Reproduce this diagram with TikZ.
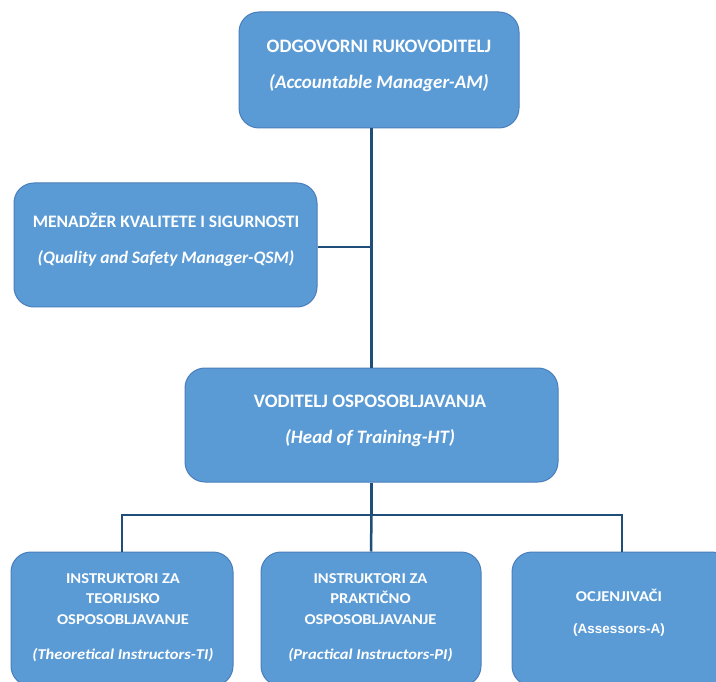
\documentclass[tikz,border=0pt]{standalone}
\usepackage{fontspec}
\setmainfont{Carlito}
\newfontfamily\widef[FakeStretch=1.1]{Carlito}
\newfontfamily\arialf{Liberation Sans}
\definecolor{boxfill}{HTML}{5B9BD5}
\definecolor{boxline}{HTML}{4A7EBB}
\definecolor{connc}{HTML}{1F4E79}
\begin{document}
\begin{tikzpicture}[x=1pt,y=-1pt,
  orgbox/.style={draw=boxline, line width=1pt, fill=boxfill, rounded corners=20pt, inner sep=0pt},
  boxtext/.style={text=white, align=center, inner sep=0pt},
  bigtxt/.style={boxtext, font=\bfseries\fontsize{19}{18}\selectfont},
  midtxt/.style={boxtext, font=\bfseries\fontsize{17.5}{18}\selectfont},
  smalltxt/.style={boxtext, font=\widef\bfseries\fontsize{15}{20.5}\selectfont},
  conn/.style={draw=connc, line width=2.5pt}]
\clip (0,0) rectangle (716,682);
\fill[white] (0,0) rectangle (716,682);
\coordinate (qsmj) at (371,247);
\coordinate (busy) at (371,515);
% boxes
\node[orgbox, minimum width=280pt, minimum height=116pt] (am) at (379,70) {};
\node[orgbox, minimum width=303pt, minimum height=124pt] (qsm) at (165.5,245) {};
\node[orgbox, minimum width=373pt, minimum height=114pt] (ht) at (371.5,425) {};
\node[orgbox, minimum width=222pt, minimum height=134pt] (ti) at (122,619) {};
\node[orgbox, minimum width=220pt, minimum height=134pt] (pi) at (371,619) {};
\node[orgbox, minimum width=220pt, minimum height=134pt] (as) at (622,619) {};
% texts
\node[bigtxt] (amt) at (379,66)
  {ODGOVORNI RUKOVODITELJ\\[18pt]\textit{(Accountable Manager-AM)}};
\node[midtxt] (qsmt) at (166,240)
  {MENADŽER KVALITETE I SIGURNOSTI\\[18pt]\textit{(Quality and Safety Manager-QSM)}};
\node[bigtxt] (htt) at (370,421)
  {VODITELJ OSPOSOBLJAVANJA\\[18pt]\textit{(Head of Training-HT)}};
\node[smalltxt] (tit) at (123,617.5)
  {INSTRUKTORI ZA\\TEORIJSKO\\OSPOSOBLJAVANJE\\[14.5pt]\textit{(Theoretical Instructors-TI)}};
\node[smalltxt] (pit) at (370.5,617.5)
  {INSTRUKTORI ZA\\PRAKTIČNO\\OSPOSOBLJAVANJE\\[14.5pt]\textit{(Practical Instructors-PI)}};
\node[smalltxt] (ast) at (619,613)
  {OCJENJIVAČI\\[11.5pt]{\arialf\bfseries\fontsize{13.5}{14}\selectfont (Assessors-A)}};
% connectors
\draw[conn] (ht.north |- am.south) -- (ht.north);
\draw[conn] (qsm.east |- qsmj) -- (qsmj);
\draw[conn] (ht.south) -- (ht.south |- busy) -| (ti.north);
\draw[conn] (ht.south |- busy) -| (as.north);
\draw[conn] (ht.south |- busy) -- (pi.north);
\end{tikzpicture}
\end{document}
